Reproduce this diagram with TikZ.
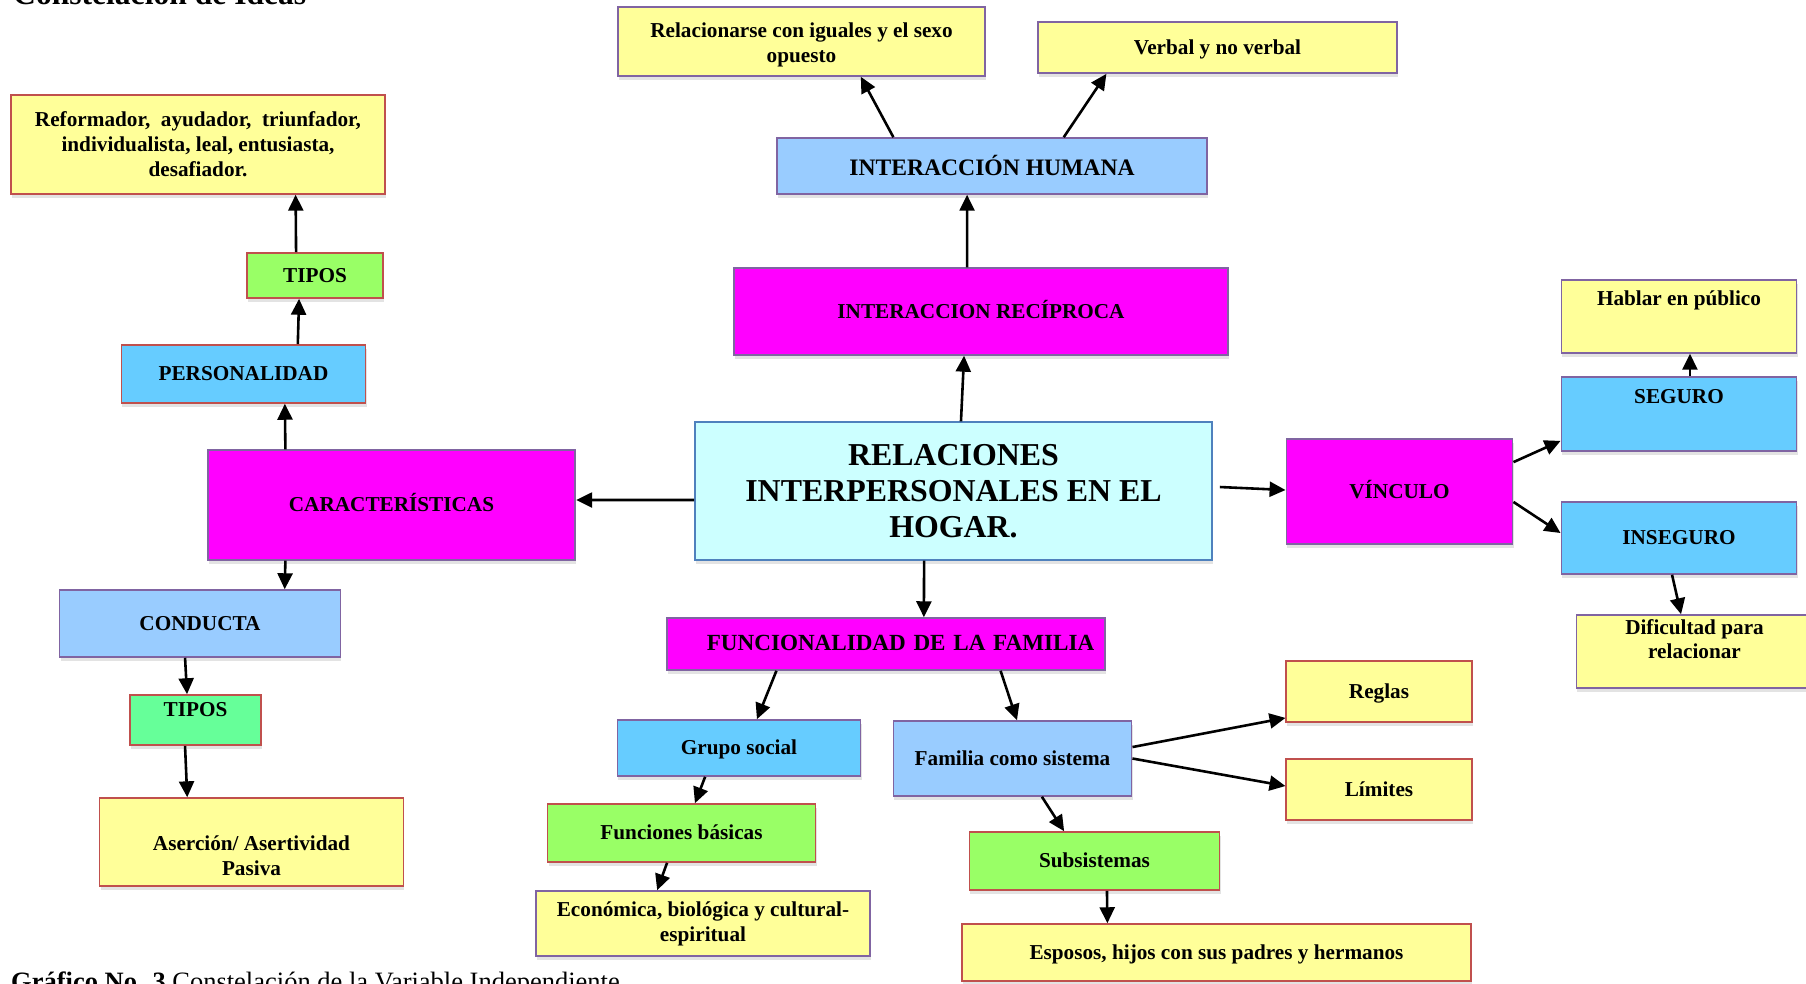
\documentclass[tikz,border=0pt]{standalone}
\usepackage{fontspec}
\setmainfont{Liberation Serif}
\usetikzlibrary{arrows.meta,shadows}
\definecolor{paleyellow}{RGB}{255,255,153}
\definecolor{magentafill}{RGB}{255,0,255}
\definecolor{lightblue}{RGB}{153,204,255}
\definecolor{skyfill}{RGB}{102,204,255}
\definecolor{greenfill}{RGB}{153,255,102}
\definecolor{mintfill}{RGB}{102,255,153}
\definecolor{rootfill}{RGB}{204,255,255}
\definecolor{redborder}{RGB}{192,80,77}
\definecolor{purpleborder}{RGB}{128,100,162}
\definecolor{blueborder}{RGB}{79,129,189}

\begin{document}
\begin{tikzpicture}[x=1bp, y=-1bp,
        box/.style = {draw, line width=1.8pt, text=black, inner sep=4pt, font=\fontsize{21.3}{25}\selectfont\bfseries,
                      text height=16pt, text depth=2pt,
                      drop shadow={shadow xshift=1pt, shadow yshift=-4pt, opacity=0.22}},
        lines/.style = {align=center, text height={}, text depth={}},
        yellowbox/.style = {box, fill=paleyellow},
        magentabox/.style = {box, fill=magentafill},
        bluebox/.style = {box, fill=lightblue},
        skybox/.style = {box, fill=skyfill},
        greenbox/.style = {box, fill=greenfill},
        mintbox/.style = {box, fill=mintfill},
        rootbox/.style = {box, fill=rootfill, font=\fontsize{32}{36}\selectfont\bfseries},
        raised/.style = {text depth=#1},
        link/.style = {-{Stealth[inset=0pt,length=16pt,width=15pt]}, line width=2.6pt}]
    \useasboundingbox (0,0) rectangle (1806,983);
    \node[anchor=base west, inner sep=0pt, font=\fontsize{31.7}{36}\selectfont\bfseries] (t) at (13,4) {Constelación de Ideas};
    \node[anchor=base west, inner sep=0pt, font=\fontsize{26.6}{30}\selectfont] (g) at (11,990) {\textbf{Gráfico No. 3} Constelación de la Variable Independiente};

    \node[rootbox, lines, draw=blueborder, minimum width=519pt, minimum height=138pt] (1) at (953.5,491) {RELACIONES\\INTERPERSONALES EN EL\\HOGAR.};
    \node[magentabox, draw=purpleborder, minimum width=369pt, minimum height=110pt] (2) at (391.5,505) {CARACTERÍSTICAS};
    \node[skybox, draw=redborder, minimum width=245pt, minimum height=58pt] (3) at (243.5,374) {PERSONALIDAD};
    \node[greenbox, draw=redborder, minimum width=136pt, minimum height=45pt] (4) at (315,275.5) {TIPOS};
    \node[yellowbox, lines, draw=redborder, minimum width=376pt, minimum height=99pt] (5) at (198,144.5) {Reformador,~ ayudador,~ triunfador,\\individualista, leal, entusiasta,\\desafiador.};
    \node[bluebox, draw=purpleborder, minimum width=282pt, minimum height=67pt] (6) at (200,623.5) {CONDUCTA};
    \node[mintbox, draw=redborder, minimum width=131pt, minimum height=50pt, raised=24pt] (7) at (195.5,720) {TIPOS};
    \node[yellowbox, lines, draw=redborder, minimum width=305pt, minimum height=88pt] (8) at (251.5,842) {\strut\\Aserción/ Asertividad\\Pasiva};
    \node[magentabox, draw=purpleborder, minimum width=496pt, minimum height=87pt] (9) at (981,311.5) {INTERACCION RECÍPROCA};
    \node[bluebox, draw=purpleborder, minimum width=432pt, minimum height=56pt, text height=22pt, font=\fontsize{23.7}{27}\selectfont\bfseries] (10) at (992,166) {INTERACCIÓN HUMANA};
    \node[yellowbox, lines, draw=purpleborder, minimum width=369pt, minimum height=69pt] (11) at (801.5,41.5) {\rule{0pt}{22pt}Relacionarse con iguales y el sexo\\opuesto};
    \node[yellowbox, draw=purpleborder, minimum width=361pt, minimum height=51pt] (12) at (1217.5,47.5) {Verbal y no verbal};
    \node[magentabox, draw=purpleborder, minimum width=227pt, minimum height=105pt] (13) at (1399.5,491.5) {VÍNCULO};
    \node[skybox, draw=purpleborder, minimum width=236pt, minimum height=74pt, raised=38pt] (14) at (1679,414) {SEGURO};
    \node[yellowbox, draw=purpleborder, minimum width=236pt, minimum height=73pt, raised=39pt] (15) at (1679,316.5) {Hablar en público};
    \node[skybox, draw=purpleborder, minimum width=236pt, minimum height=72pt] (16) at (1679,538) {INSEGURO};
    \node[yellowbox, lines, draw=purpleborder, minimum width=237pt, minimum height=73pt] (17) at (1694.5,651.5) {Dificultad para\\relacionar\\~};
    \node[magentabox, draw=purpleborder, minimum height=52pt, inner xsep=11pt, text width=418pt, align=right, font=\fontsize{23.2}{27}\selectfont\bfseries] (18) at (886,644) {FUNCIONALIDAD DE LA FAMILIA};
    \node[skybox, draw=purpleborder, minimum width=244pt, minimum height=56pt] (19) at (739,748) {Grupo social};
    \node[greenbox, draw=redborder, minimum width=269pt, minimum height=58pt] (20) at (681.5,833) {Funciones básicas};
    \node[yellowbox, lines, draw=purpleborder, minimum width=336pt, minimum height=65pt] (21) at (703,923.5) {Económica, biológica y cultural-\\espiritual};
    \node[bluebox, draw=purpleborder, minimum width=239pt, minimum height=75pt] (22) at (1012.5,758.5) {Familia como sistema};
    \node[yellowbox, draw=redborder, minimum width=186pt, minimum height=61pt] (23) at (1379,691.5) {Reglas};
    \node[yellowbox, draw=redborder, minimum width=186pt, minimum height=61pt] (24) at (1379,789.5) {Límites};
    \node[greenbox, draw=redborder, minimum width=251pt, minimum height=58pt] (25) at (1094.5,861) {Subsistemas};
    \node[yellowbox, draw=redborder, minimum width=511pt, minimum height=57pt] (26) at (1216.5,952.5) {Esposos, hijos con sus padres y hermanos};

    \draw[link] ([xshift=-19pt]4.north) -- ([xshift=98pt]5.south);
    \draw[link] ([xshift=54.5pt]3.north) -- ([xshift=-16pt]4.south);
    \draw[link] ([xshift=-106.5pt]2.north) -- ([xshift=41.5pt]3.south);
    \draw[link] ([yshift=-9pt]1.west) -- ([yshift=5pt]2.east);
    \draw[link] ([xshift=-106.5pt]2.south) -- ([xshift=85pt]6.north);
    \draw[link] ([xshift=-15pt]6.south) -- ([xshift=-8.5pt]7.north);
    \draw[link] ([xshift=-10.5pt]7.south) -- ([xshift=-64.5pt]8.north);
    \draw[link] ([xshift=-99pt]10.north) -- ([xshift=59.5pt]11.south);
    \draw[link] ([xshift=72pt]10.north) -- ([xshift=-111.5pt]12.south);
    \draw[link] ([xshift=-14pt]9.north) -- ([xshift=-25pt]10.south);
    \draw[link] ([xshift=7.5pt]1.north) -- ([xshift=-17pt]9.south);
    \draw[link] ([xshift=7pt,yshift=4pt]1.east) -- ([yshift=1.5pt]13.west);
    \draw[link] ([yshift=29.5pt]13.east) -- ([yshift=-27pt]14.west);
    \draw[link] ([yshift=-10.5pt]13.east) -- ([yshift=5pt]16.west);
    \draw[link] ([xshift=11pt]14.north) -- ([xshift=11pt]15.south);
    \draw[link] ([xshift=-7pt]16.south) -- ([xshift=-13.5pt]17.north);
    \draw[link] ([xshift=-29.5pt]1.south) -- ([xshift=38pt]18.north);
    \draw[link] ([xshift=-110pt]18.south) -- ([xshift=18pt]19.north);
    \draw[link] ([xshift=115pt]18.south) -- ([xshift=4.5pt]22.north);
    \draw[link] ([xshift=-34pt]19.south) -- ([xshift=13.5pt]20.north);
    \draw[link] ([xshift=-14.5pt]20.south) -- ([xshift=-46pt]21.north);
    \draw[link] ([yshift=11.5pt]22.east) -- ([yshift=-26.5pt]23.west);
    \draw[link] (22.east) -- ([yshift=3.5pt]24.west);
    \draw[link] ([xshift=29.5pt]22.south) -- ([xshift=-30.5pt]25.north);
    \draw[link] ([xshift=12.5pt]25.south) -- ([xshift=-109.5pt]26.north);
\end{tikzpicture}
\end{document}
